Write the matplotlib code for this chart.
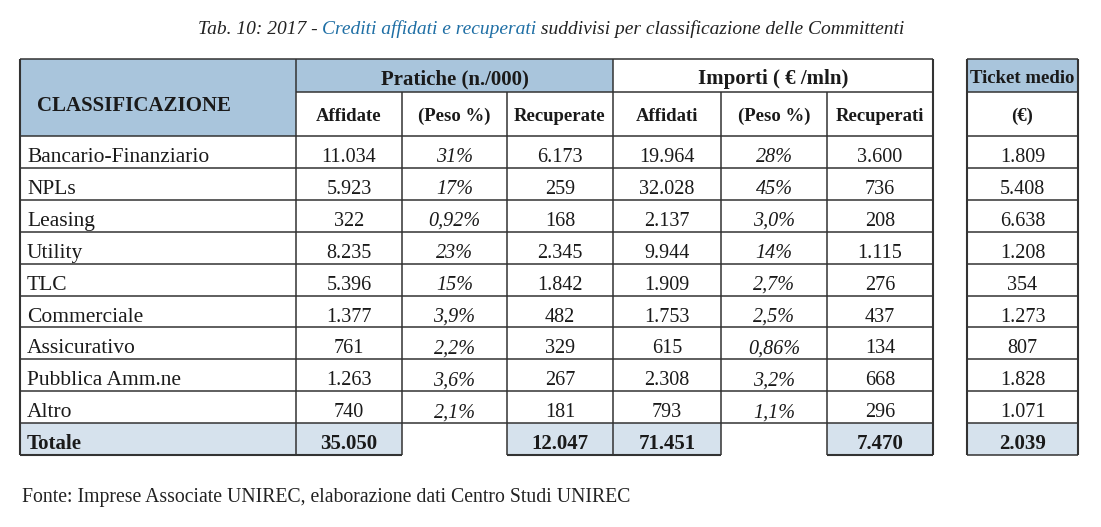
import matplotlib.pyplot as plt
from matplotlib.patches import Rectangle

# dati della tabella
categorie = ["Bancario-Finanziario", "NPLs", "Leasing", "Utility", "TLC",
             "Commerciale", "Assicurativo", "Pubblica Amm.ne", "Altro"]
pratiche_affidate = ["11.034", "5.923", "322", "8.235", "5.396", "1.377", "761", "1.263", "740"]
pratiche_peso = ["31%", "17%", "0,92%", "23%", "15%", "3,9%", "2,2%", "3,6%", "2,1%"]
pratiche_recuperate = ["6.173", "259", "168", "2.345", "1.842", "482", "329", "267", "181"]
importi_affidati = ["19.964", "32.028", "2.137", "9.944", "1.909", "1.753", "615", "2.308", "793"]
importi_peso = ["28%", "45%", "3,0%", "14%", "2,7%", "2,5%", "0,86%", "3,2%", "1,1%"]
importi_recuperati = ["3.600", "736", "208", "1.115", "276", "437", "134", "668", "296"]
ticket_medio = ["1.809", "5.408", "6.638", "1.208", "354", "1.273", "807", "1.828", "1.071"]
totali = ["Totale", "35.050", "", "12.047", "71.451", "", "7.470"]
totale_ticket = "2.039"

SERIF = "Liberation Serif"
BLU = "#a9c5dc"
BLU_TOT = "#d6e2ed"
LINEA = "#333333"
TESTO = "#1a1a1a"

fig = plt.figure(figsize=(11.01, 5.27), dpi=100)
ax = fig.add_axes([0, 0, 1, 1])
ax.set_xlim(0, 1101)
ax.set_ylim(527, 0)
ax.axis("off")

xs = [20, 296, 402, 507, 613, 721, 827, 933]
tx = [967, 1078]
y_top, y_mid, y_head = 59, 92, 136
row_h = 31.9
n = len(categorie)
y_rows = [y_head + i * row_h for i in range(n + 1)]
y_tot = y_rows[-1]
y_bot = y_tot + 32
base = 26  # distanza della linea di base dal bordo superiore della riga

# riempimenti
ax.add_patch(Rectangle((xs[0], y_top), xs[1] - xs[0], y_head - y_top, color=BLU, lw=0))
ax.add_patch(Rectangle((xs[1], y_top), xs[4] - xs[1], y_mid - y_top, color=BLU, lw=0))
ax.add_patch(Rectangle((tx[0], y_top), tx[1] - tx[0], y_mid - y_top, color=BLU, lw=0))
for a, b in [(0, 2), (3, 5), (6, 7)]:
    ax.add_patch(Rectangle((xs[a], y_tot), xs[b] - xs[a], y_bot - y_tot, color=BLU_TOT, lw=0))
ax.add_patch(Rectangle((tx[0], y_tot), tx[1] - tx[0], y_bot - y_tot, color=BLU_TOT, lw=0))

# linee tabella principale
lw = 1.1
ax.hlines([y_top, y_head] + y_rows[1:], xs[0], xs[-1], color=LINEA, lw=lw)
ax.hlines(y_mid, xs[1], xs[-1], color=LINEA, lw=lw)
for a, b in [(0, 2), (3, 5), (6, 7)]:
    ax.hlines(y_bot, xs[a], xs[b], color=LINEA, lw=1.5)
ax.vlines([xs[1], xs[4]], y_top, y_bot, color=LINEA, lw=lw)
ax.vlines([xs[2], xs[3], xs[5], xs[6]], y_mid, y_bot, color=LINEA, lw=lw)
ax.vlines([xs[0], xs[7]], y_top, y_bot, color=LINEA, lw=1.5)

# linee ticket medio
ax.hlines([y_top, y_mid, y_head] + y_rows[1:] + [y_bot], tx[0], tx[1], color=LINEA, lw=lw)
ax.vlines(tx, y_top, y_bot, color=LINEA, lw=1.5)

# titolo
t_kw = dict(family=SERIF, style="italic", fontsize=14, va="baseline")
parts = [("Tab. 10: 2017 - ", "#222222"), ("Crediti affidati e recuperati", "#1f6fa5"),
         (" suddivisi per classificazione delle Committenti", "#222222")]
fig.canvas.draw()
r = fig.canvas.get_renderer()
widths = []
for s, c in parts:
    t = ax.text(0, 34, s, **t_kw)
    widths.append(t.get_window_extent(r).width)
    t.remove()
x0 = 551 - sum(widths) / 2
for (s, c), w in zip(parts, widths):
    ax.text(x0, 34, s, color=c, **t_kw)
    x0 += w

# intestazioni
h_kw = dict(family=SERIF, weight="bold", fontsize=13.5, ha="center", va="baseline", color=TESTO)
ax.text(xs[0] + 17, 111, "CLASSIFICAZIONE", ha="left", va="baseline",
        family=SERIF, weight="bold", fontsize=15, color=TESTO)
ax.text((xs[1] + xs[4]) / 2, y_top + 25, "Pratiche (n./000)",
        **{**h_kw, "fontsize": 15})
ax.text((xs[4] + xs[7]) / 2, y_top + 25, "Importi ( € /mln)",
        **{**h_kw, "fontsize": 15})
ax.text((tx[0] + tx[1]) / 2, y_top + 24, "Ticket medio", **h_kw)
sub = ["Affidate", "(Peso %)", "Recuperate", "Affidati", "(Peso %)", "Recuperati"]
for i, s in enumerate(sub):
    ax.text((xs[i + 1] + xs[i + 2]) / 2, y_mid + 29, s, **h_kw)
ax.text((tx[0] + tx[1]) / 2, y_mid + 29, "(€)", **h_kw)

# righe dati
cols = [pratiche_affidate, pratiche_peso, pratiche_recuperate,
        importi_affidati, importi_peso, importi_recuperati]
d_kw = dict(family=SERIF, fontsize=14.5, va="baseline", color=TESTO)
for i, cat in enumerate(categorie):
    yb = y_rows[i] + base
    ax.text(xs[0] + 7, yb, cat, ha="left", family=SERIF, fontsize=15.5, va="baseline", color=TESTO)
    for j, col in enumerate(cols):
        style = "italic" if j in (1, 4) else "normal"
        ax.text((xs[j + 1] + xs[j + 2]) / 2, yb, col[i], ha="center", style=style, **d_kw)
    ax.text((tx[0] + tx[1]) / 2, yb, ticket_medio[i], ha="center", **d_kw)

# riga totale
yb = y_tot + base
b_kw = dict(family=SERIF, weight="bold", fontsize=15, va="baseline", color=TESTO)
ax.text(xs[0] + 7, yb, totali[0], ha="left", **b_kw)
for j, v in enumerate(totali[1:]):
    ax.text((xs[j + 1] + xs[j + 2]) / 2, yb, v, ha="center", **b_kw)
ax.text((tx[0] + tx[1]) / 2, yb, totale_ticket, ha="center", **b_kw)

ax.text(22, 502, "Fonte: Imprese Associate UNIREC, elaborazione dati Centro Studi UNIREC",
        family=SERIF, fontsize=14.2, va="baseline", color="#222222")

fig.savefig("out.png", dpi=100)
